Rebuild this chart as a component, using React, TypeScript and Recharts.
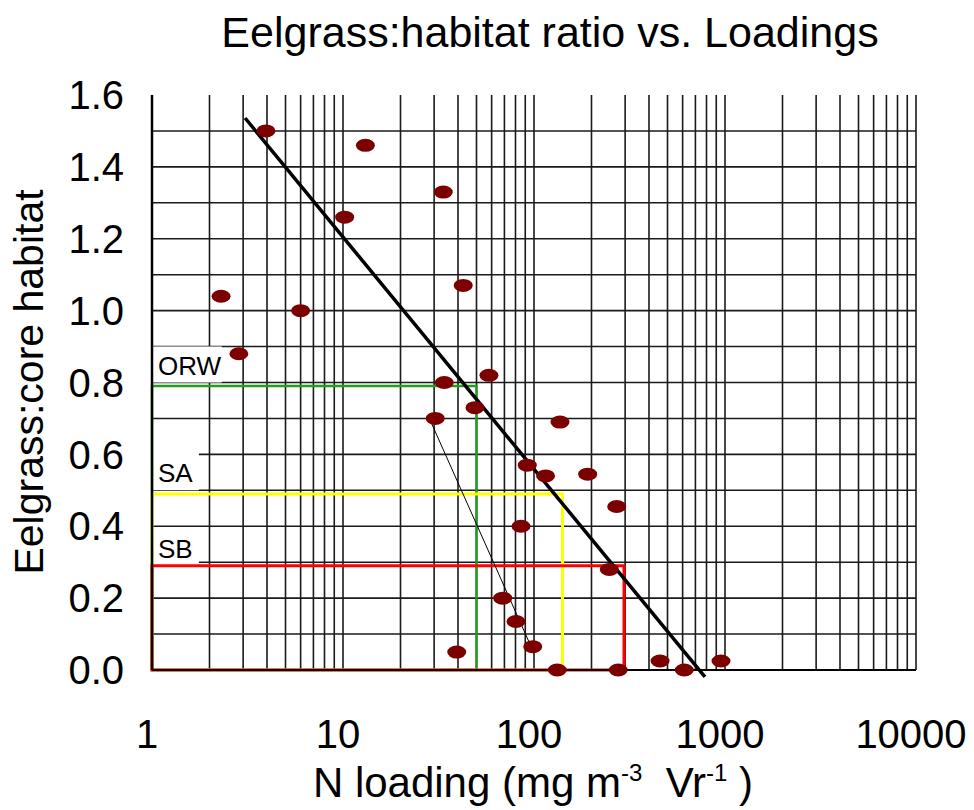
import React from 'react';
import {
  ScatterChart,
  Scatter,
  XAxis,
  YAxis,
  CartesianGrid,
  ReferenceArea,
  ReferenceLine,
  Label,
} from 'recharts';

// ---- data ----
const nLoading = [2.3, 2.85, 3.95, 6.0, 10.2, 13.1, 33.5, 42.6, 33.9, 58.1, 49.1, 30.4, 92.2, 85.5, 68.6, 80.5, 98.5, 39.4, 136.8, 115, 191, 271, 248, 132.4, 276, 457, 612, 953];
const ratio = [1.04, 0.88, 1.5, 1.0, 1.26, 1.46, 1.33, 1.07, 0.8, 0.82, 0.73, 0.7, 0.57, 0.4, 0.2, 0.135, 0.065, 0.05, 0.69, 0.54, 0.545, 0.455, 0.28, 0.0, 0.0, 0.025, 0.0, 0.025];

const trendX = [3.07, 785];
const trendY = [1.536, -0.019];
const thinX = [29.1, 99.2];
const thinY = [0.686, 0.051];

// criteria boxes: [upper N loading, upper ratio]
const orwBox = [50, 0.79];
const saBox = [141, 0.49];
const sbBox = [296, 0.29];

const xTicks = [1, 10, 100, 1000, 10000];
const yTicks = [0, 0.2, 0.4, 0.6, 0.8, 1.0, 1.2, 1.4, 1.6];
const gridX = [2, 3, 4, 5, 6, 7, 8, 9, 10, 20, 30, 40, 50, 60, 70, 80, 90, 100, 200, 300, 400, 500, 600, 700, 800, 900, 1000, 2000, 3000, 4000, 5000, 6000, 7000, 8000, 9000, 10000];
const gridY = [0.1, 0.2, 0.3, 0.4, 0.5, 0.6, 0.7, 0.8, 0.9, 1.0, 1.1, 1.2, 1.3, 1.4, 1.5];

const points = nLoading.map((x, i) => ({ x, y: ratio[i] }));

const FONT = 'Arial, "Liberation Sans", sans-serif';
const POINT_COLOR = '#7d0000';

const Dot = (props: any) => {
  const { cx, cy } = props;
  if (cx == null || cy == null) return null;
  return <ellipse cx={cx} cy={cy} rx={9.5} ry={6.5} fill={POINT_COLOR} />;
};

const boxLabel = (text: string) => (props: any) => {
  const vb = props.viewBox || {};
  return (
    <text x={vb.x + 6} y={vb.y + vb.height - 8} fontSize={26} fontFamily={FONT} fill="#000">
      {text}
    </text>
  );
};

const XTitle = (props: any) => {
  return (
    <text x={533} y={797} fontSize={42} fontFamily={FONT} fill="#000" textAnchor="middle" style={{ whiteSpace: 'pre' }}>
      <tspan>N loading (mg m</tspan>
      <tspan dy={-16} fontSize={24}>-3</tspan>
      <tspan dy={16}>  Vr</tspan>
      <tspan dy={-16} fontSize={24}>-1</tspan>
      <tspan dy={16}> )</tspan>
    </text>
  );
};

const YTitle = (props: any) => {
  return (
    <text
      x={43}
      y={382}
      fontSize={41}
      fontFamily={FONT}
      fill="#000"
      textAnchor="middle"
      transform="rotate(-90, 43, 382)"
    >
      Eelgrass:core habitat
    </text>
  );
};

export default function App() {
  return (
    <div style={{ position: 'absolute', left: 0, top: 0, width: 974, height: 810, background: '#fff' }}>
      <svg width={974} height={80} style={{ position: 'absolute', left: 0, top: 0, pointerEvents: 'none' }}>
        <text x={550} y={47} fontSize={43} fontFamily={FONT} textAnchor="middle" fill="#000">
          Eelgrass:habitat ratio vs. Loadings
        </text>
      </svg>
      <ScatterChart width={974} height={810} margin={{ top: 95, right: 58, left: 0, bottom: 0 }}>
        <CartesianGrid
          stroke="#1a1a1a"
          strokeWidth={1.6}
          horizontalValues={gridY}
          verticalValues={gridX}
        />
        <XAxis
          type="number"
          dataKey="x"
          scale="log"
          domain={[1, 10000]}
          ticks={xTicks}
          height={140}
          tickLine={false}
          tickSize={0}
          tickMargin={50}
          axisLine={{ stroke: '#000', strokeWidth: 2 }}
          tick={{ fontSize: 40, fontFamily: FONT, fill: '#000', dx: -5 }}
          interval={0}
        >
          <Label content={XTitle} />
        </XAxis>
        <YAxis
          type="number"
          dataKey="y"
          domain={[0, 1.6]}
          ticks={yTicks}
          width={152}
          tickLine={false}
          tickSize={0}
          tickMargin={28}
          axisLine={{ stroke: '#000', strokeWidth: 2.5 }}
          tick={{ fontSize: 40, fontFamily: FONT, fill: '#000' }}
          tickFormatter={(v: number) => v.toFixed(1)}
          interval={0}
        >
          <Label content={YTitle} />
        </YAxis>

        <ReferenceArea x1={1} x2={2.32} y1={0.8} y2={0.9} fill="#fff" fillOpacity={1} stroke="none" label={boxLabel('ORW')} />
        <ReferenceArea x1={1} x2={1.76} y1={0.5} y2={0.61} fill="#fff" fillOpacity={1} stroke="none" label={boxLabel('SA')} />
        <ReferenceArea x1={1} x2={1.76} y1={0.29} y2={0.39} fill="#fff" fillOpacity={1} stroke="none" label={boxLabel('SB')} />

        <ReferenceArea x1={1} x2={orwBox[0]} y1={0} y2={orwBox[1]} fill="none" stroke="#1f9e1f" strokeWidth={2.5} />
        <ReferenceArea x1={1} x2={saBox[0]} y1={0} y2={saBox[1]} fill="none" stroke="#ffff00" strokeWidth={3} />
        <ReferenceArea x1={1} x2={sbBox[0]} y1={0} y2={sbBox[1]} fill="none" stroke="#ff0000" strokeWidth={3} />

        <Scatter data={points} shape={Dot} isAnimationActive={false} />

        <ReferenceLine
          segment={[{ x: thinX[0], y: thinY[0] }, { x: thinX[1], y: thinY[1] }]}
          stroke="#000"
          strokeWidth={1}
          ifOverflow="visible"
        />
        <ReferenceLine
          segment={[{ x: trendX[0], y: trendY[0] }, { x: trendX[1], y: trendY[1] }]}
          stroke="#000"
          strokeWidth={3.5}
          ifOverflow="visible"
        />
      </ScatterChart>
    </div>
  );
}
